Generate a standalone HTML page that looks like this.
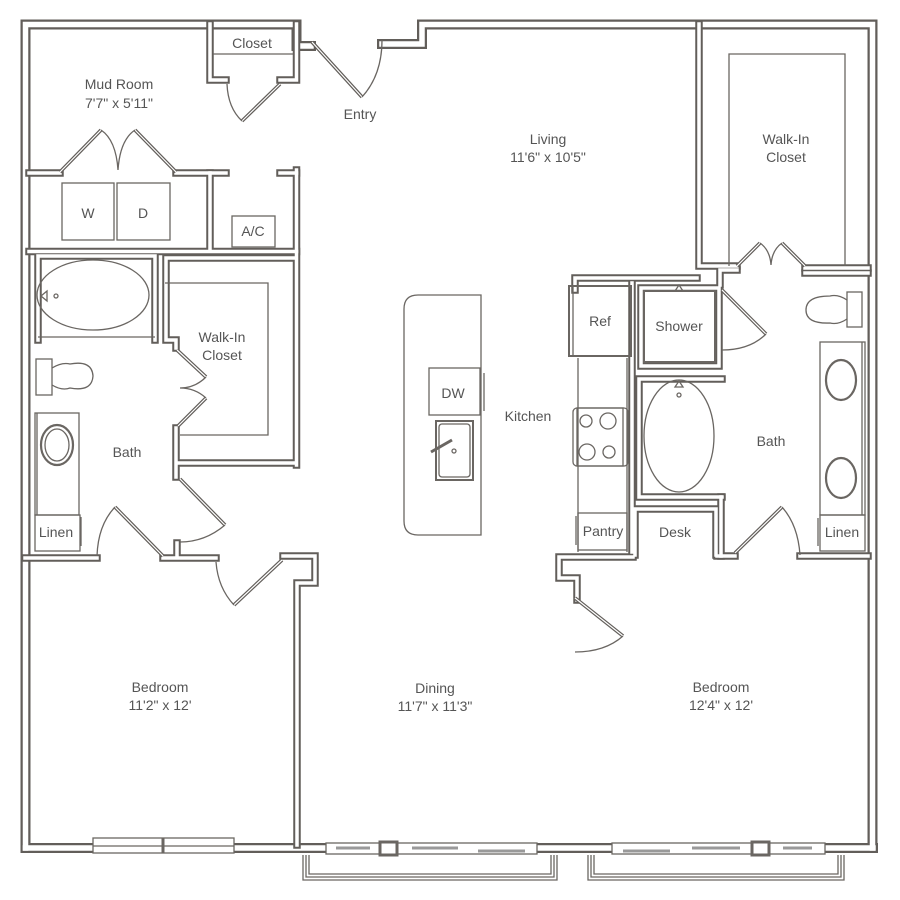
<!DOCTYPE html>
<html><head><meta charset="utf-8"><style>
html,body{margin:0;padding:0;background:#fff;}
svg{display:block}
text{font-family:"Liberation Sans",sans-serif;font-size:14px;fill:#555;text-anchor:middle}
</style></head><body>
<svg width="900" height="900" viewBox="0 0 900 900" xmlns="http://www.w3.org/2000/svg">
<defs>
<g id="outer" fill="none">
<path d="M25.5,848 V24.5 H296.5 V46 H311"/>
<path d="M382,44 H422 V24.5 H872.5 V848"/>
<path d="M25.5,848 H873"/>
</g>
<g id="inner" fill="none">
<path d="M296.5,24 V80 H280"/>
<path d="M210,24 V80 H226"/>
<path d="M29,173 H60 M176,173 H226 M280,173 H296.5"/>
<path d="M210,173 V251"/>
<path d="M29,251.5 H296.5"/>
<path d="M296.5,170 V465"/>
<path d="M38,340 V256 H155 V340"/>
<path d="M166,258 H296 M166,258 V340 H176 V348"/>
<path d="M176,428 V477 M176,463 H296"/>
<path d="M25,558 H97 M163,558 H216 M177,558 V543"/>
<path d="M283,556 H315 V583 H297 V845"/>
<path d="M699,24 V266 H737 M805,268 H868"/>
<path d="M575,290 V278 H697"/>
<path d="M720,285 V270 H737"/>
<path d="M632,283 V552"/>
<path d="M577,600 V578 H559 V557 H633 M717,556 H735 M800,556 H868"/>
<path d="M721,497 V556"/>
<path d="M641,366 V288 H719 V366 Z"/>
<path d="M722,497 H639 V379 H722"/>
<path d="M635,555 V509 H716 V555"/>
<path d="M805,273 H868"/>
</g>
<g id="leaves" fill="none">
<path d="M312,42 L362,97"/>
<path d="M280,84 L242,121"/>
<path d="M60,172 L101,130 M176,172 L135,130"/>
<path d="M737,266 L760,243 M805,266 L782,243"/>
<path d="M177,350 L206,377 M206,398 L178,426"/>
<path d="M180,479 L225,525"/>
<path d="M163,556 L115,507"/>
<path d="M282,560 L234,605"/>
<path d="M575,598 L623,636"/>
<path d="M722,290 L766,334"/>
<path d="M735,553 L782,507"/>
</g>
</defs>
<g stroke-linejoin="miter" stroke-linecap="square">
<use href="#outer" stroke="#625e5a" stroke-width="10"/>
<use href="#outer" stroke="#fff" stroke-width="5.5"/>
<use href="#inner" stroke="#625e5a" stroke-width="7.5"/>
<use href="#inner" stroke="#fff" stroke-width="3.5"/>
</g>
<use href="#leaves" stroke="#625e5a" stroke-width="3.6"/>
<use href="#leaves" stroke="#fff" stroke-width="1.2"/>
<g fill="none" stroke="#6a6662" stroke-width="1.3">
<line x1="213" y1="54" x2="293" y2="54"/>
<path d="M165,283 H268 V435 H180"/>
<path d="M729,266 V54 H845 V266"/>
<path d="M362,97 Q382,75 382,40"/>
<path d="M227,84 Q228,108 242,121"/>
<path d="M101,130 Q116,140 118,170 M135,130 Q120,140 118,170"/>
<path d="M760,243 Q770,250 771,265 M782,243 Q772,250 771,265"/>
<path d="M206,377 Q195,388 180,388 M206,398 Q195,388 180,388"/>
<path d="M225,525 Q205,542 180,542"/>
<path d="M115,507 Q98,525 97,556"/>
<path d="M234,605 Q218,588 216,562"/>
<path d="M623,636 Q605,652 575,652"/>
<path d="M766,334 Q750,350 722,350"/>
<path d="M782,507 Q798,525 800,555"/>
<rect x="62" y="183" width="52" height="57"/>
<rect x="117" y="183" width="53" height="57"/>
<rect x="232" y="216" width="43" height="31"/>
<ellipse cx="93" cy="295" rx="56" ry="35"/>
<path d="M41,296 L47,291 V301 Z"/><circle cx="56" cy="296" r="2"/>
<line x1="38" y1="337" x2="155" y2="337"/>
<rect x="36" y="359" width="16" height="36"/>
<path d="M52,368 Q62,362 70,364 Q92,360 93,376 Q92,392 70,388 Q62,391 52,385"/>
<rect x="35" y="413" width="44" height="102"/>
<line x1="37" y1="413" x2="37" y2="515"/>
<ellipse cx="57" cy="445" rx="16" ry="20" stroke-width="2.2"/>
<ellipse cx="57" cy="445" rx="12" ry="16"/>
<rect x="35" y="515" width="45" height="36"/>
<line x1="81" y1="517" x2="81" y2="546"/>
<path d="M418,295 H481 V535 H418 Q404,535 404,521 V309 Q404,295 418,295 Z"/>
<rect x="429" y="368" width="51" height="47"/>
<line x1="484" y1="373" x2="484" y2="411"/>
<rect x="436" y="421" width="37" height="59" stroke-width="2"/>
<rect x="439" y="424" width="31" height="53" rx="3"/>
<path d="M431,452 L452,440" stroke-width="3"/><circle cx="454" cy="451" r="2"/>
<rect x="569" y="286" width="62" height="70" stroke-width="2"/>
<line x1="573" y1="286" x2="573" y2="356"/>
<line x1="578" y1="358" x2="578" y2="552"/><line x1="627" y1="358" x2="627" y2="552"/>
<rect x="573" y="408" width="55" height="58" rx="4"/>
<rect x="577" y="408" width="46" height="58"/>
<circle cx="586" cy="421" r="6"/><circle cx="608" cy="421" r="8"/>
<circle cx="587" cy="452" r="8"/><circle cx="609" cy="452" r="6"/>
<rect x="578" y="513" width="49" height="37"/>
<line x1="576" y1="516" x2="576" y2="545"/>
<path d="M675,291 L679,285 L683,291 Z"/>
<rect x="644" y="291" width="71" height="71" stroke-width="2"/>
<ellipse cx="679" cy="436" rx="35" ry="56"/>
<path d="M675,387 L679,381 L683,387 Z"/><circle cx="679" cy="395" r="2"/>
<rect x="847" y="292" width="15" height="35"/>
<path d="M847,300 Q838,294 830,296 Q806,296 806,310 Q806,324 830,323 Q838,325 847,319"/>
<rect x="820" y="342" width="45" height="173"/>
<line x1="862" y1="342" x2="862" y2="515"/>
<ellipse cx="841" cy="380" rx="15" ry="20" stroke-width="2.2"/>
<ellipse cx="841" cy="478" rx="15" ry="20" stroke-width="2.2"/>
<rect x="820" y="515" width="45" height="36"/>
<line x1="818" y1="518" x2="818" y2="546"/>
<path d="M303,855 V880 H557 V855 M306,855 V877 H554 V855 M309,855 V874 H551 V855"/>
<path d="M588,855 V880 H844 V855 M591,855 V877 H841 V855 M594,855 V874 H838 V855"/>
</g>
<g stroke="#6a6662" stroke-width="1.3">
<rect x="93" y="838" width="141" height="15" fill="#fff"/>
<line x1="93" y1="846" x2="234" y2="846"/>
<line x1="163" y1="838" x2="163" y2="853" stroke-width="3"/>
<rect x="326" y="843" width="211" height="11" fill="#fff"/>
<rect x="380" y="842" width="17" height="13" fill="#fff" stroke-width="3"/>
<line x1="336" y1="848" x2="370" y2="848" stroke-width="3" stroke="#999"/>
<line x1="412" y1="848" x2="458" y2="848" stroke-width="3" stroke="#999"/>
<line x1="478" y1="851" x2="525" y2="851" stroke-width="3" stroke="#999"/>
<rect x="612" y="843" width="213" height="11" fill="#fff"/>
<rect x="752" y="842" width="17" height="13" fill="#fff" stroke-width="3"/>
<line x1="623" y1="851" x2="670" y2="851" stroke-width="3" stroke="#999"/>
<line x1="692" y1="848" x2="740" y2="848" stroke-width="3" stroke="#999"/>
<line x1="783" y1="848" x2="812" y2="848" stroke-width="3" stroke="#999"/>
</g>
<text x="119" y="89">Mud Room</text>
<text x="119" y="108" font-size="13">7'7" x 5'11"</text>
<text x="252" y="48">Closet</text>
<text x="360" y="119">Entry</text>
<text x="548" y="144">Living</text>
<text x="548" y="162" font-size="13">11'6" x 10'5"</text>
<text x="786" y="144">Walk-In</text>
<text x="786" y="162">Closet</text>
<text x="88" y="218">W</text>
<text x="143" y="218">D</text>
<text x="253" y="236">A/C</text>
<text x="222" y="342">Walk-In</text>
<text x="222" y="360">Closet</text>
<text x="127" y="457">Bath</text>
<text x="453" y="398">DW</text>
<text x="528" y="421">Kitchen</text>
<text x="600" y="326">Ref</text>
<text x="679" y="331">Shower</text>
<text x="771" y="446">Bath</text>
<text x="603" y="536">Pantry</text>
<text x="675" y="537">Desk</text>
<text x="56" y="537">Linen</text>
<text x="842" y="537">Linen</text>
<text x="160" y="692">Bedroom</text>
<text x="160" y="710" font-size="13">11'2" x 12'</text>
<text x="435" y="693">Dining</text>
<text x="435" y="711" font-size="13">11'7" x 11'3"</text>
<text x="721" y="692">Bedroom</text>
<text x="721" y="710" font-size="13">12'4" x 12'</text>
</svg>
</body></html>
